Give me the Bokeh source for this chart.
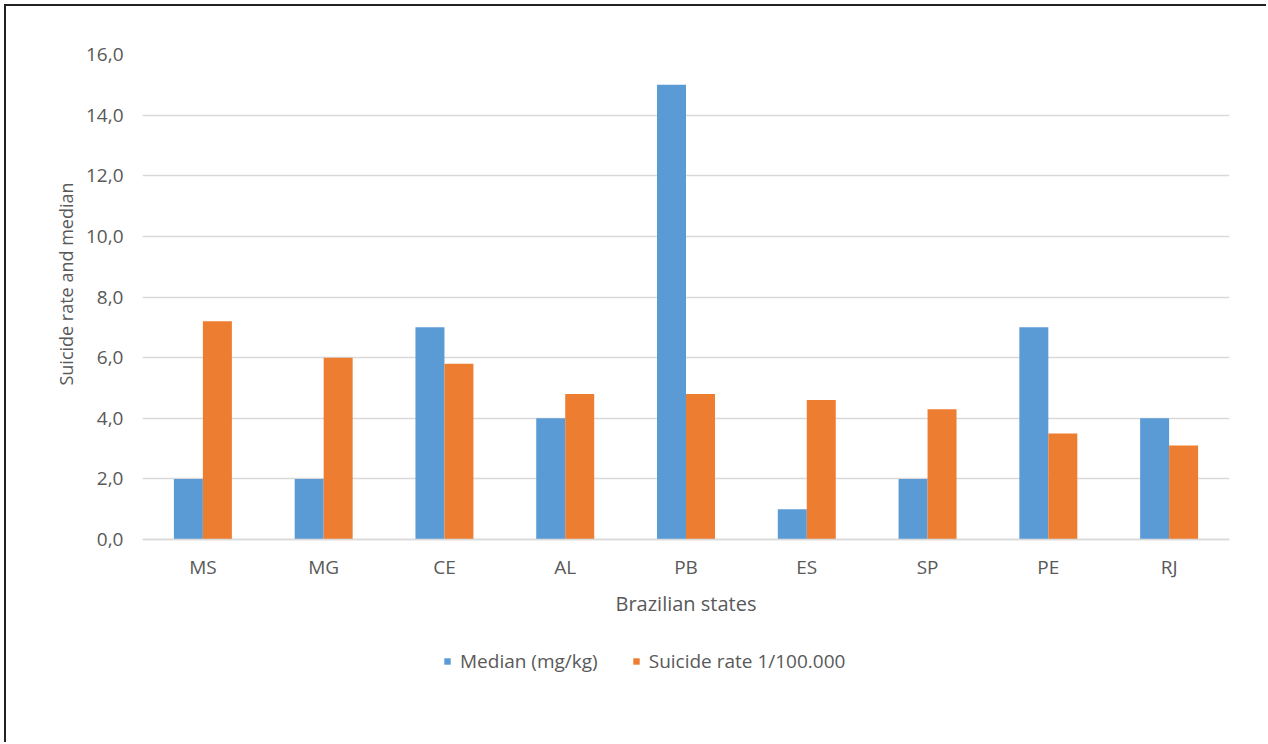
from bokeh.plotting import figure
from bokeh.models import (ColumnDataSource, FactorRange, Range1d, FixedTicker,
                          CustomJSTickFormatter, Legend, LegendItem, Title)
from bokeh.transform import dodge
from bokeh.embed import file_html
from bokeh.resources import INLINE

states = ["MS", "MG", "CE", "AL", "PB", "ES", "SP", "PE", "RJ"]
median = [2.0, 2.0, 7.0, 4.0, 15.0, 1.0, 2.0, 7.0, 4.0]
suicide_rate = [7.2, 6.0, 5.8, 4.8, 4.8, 4.6, 4.3, 3.5, 3.1]
y_ticks = [0, 2, 4, 6, 8, 10, 12, 14, 16]
series_names = ["Median (mg/kg)", "Suicide rate 1/100.000"]

BLUE = "#5B9BD5"
ORANGE = "#ED7D31"
GRID = "#D9D9D9"
TEXT = "#595959"
FONT = "Open Sans"

# geometry (page pixels): y=16 at 54, y=0 at 539, frame extends to 700 to hold the legend
PX_PER_UNIT = (539 - 54) / 16.0
Y_BOTTOM = -(700 - 539) / PX_PER_UNIT

src = ColumnDataSource(dict(state=states, median=median, suicide=suicide_rate))

p = figure(width=1262, height=738, x_range=FactorRange(*states),
           y_range=Range1d(Y_BOTTOM, 16), output_backend="svg", toolbar_location=None,
           min_border_left=136, min_border_right=39, min_border_top=48,
           min_border_bottom=44)
p.margin = (4, 0, 0, 4)
p.styles = {"border-top": "2px solid #222222", "border-left": "2px solid #222222"}
p.outline_line_color = None
p.background_fill_color = "white"
p.border_fill_color = "white"

r1 = p.vbar(x=dodge("state", -0.12, range=p.x_range), top="median", bottom=0, width=0.24,
            source=src, fill_color=BLUE, line_color=None)
r2 = p.vbar(x=dodge("state", 0.12, range=p.x_range), top="suicide", bottom=0, width=0.24,
            source=src, fill_color=ORANGE, line_color=None)

p.xgrid.grid_line_color = None
p.ygrid.grid_line_color = GRID
p.ygrid.grid_line_width = 1.3
p.yaxis.ticker = FixedTicker(ticks=y_ticks)
p.yaxis.formatter = CustomJSTickFormatter(code="return tick.toFixed(1).replace('.', ',');")

for ax in (p.xaxis[0], p.yaxis[0]):
    ax.major_tick_line_color = None
    ax.minor_tick_line_color = None
    ax.major_label_text_color = TEXT
    ax.major_label_text_font = FONT
    ax.major_label_text_font_size = "19px"
    ax.axis_label_text_color = TEXT
    ax.axis_label_text_font = FONT
    ax.axis_label_text_font_size = "20px"
    ax.axis_label_text_font_style = "normal"

p.xaxis.fixed_location = 0
p.xaxis.axis_line_color = GRID
p.xaxis.axis_line_width = 1.3
p.xaxis.major_label_standoff = 8
p.xaxis.axis_label = "Brazilian states"
p.xaxis.axis_label_standoff = 7

p.yaxis.axis_line_color = None
p.yaxis.major_label_standoff = 13

ytitle = Title(text="Suicide rate and median", align="right", offset=128,
               vertical_align="middle", text_font=FONT, text_font_size="18px",
               text_font_style="normal", text_color=TEXT, standoff=8)
p.add_layout(ytitle, "left")

legend = Legend(items=[LegendItem(label=series_names[0], renderers=[r1]),
                       LegendItem(label=series_names[1], renderers=[r2])],
                orientation="horizontal", location=(301, 26),
                padding=0, margin=0, spacing=34, glyph_width=8, glyph_height=8,
                label_standoff=9, label_height=20,
                label_text_font=FONT, label_text_font_size="19px",
                label_text_color=TEXT, border_line_color=None,
                background_fill_alpha=0)
p.add_layout(legend, "center")

open("out.html", "w").write(file_html(p, INLINE))
